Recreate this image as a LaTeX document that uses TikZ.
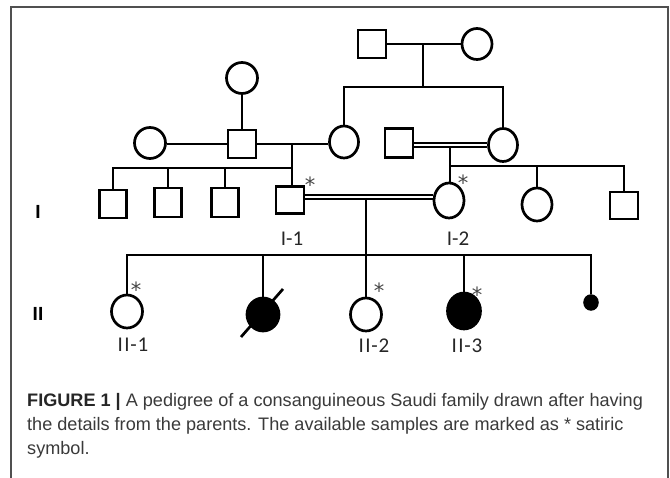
\documentclass[tikz,border=0pt]{standalone}
\usepackage{fontspec}
\usetikzlibrary{shapes.geometric}
\newfontfamily\lblfont{Carlito}
\newfontfamily\capfont{Liberation Sans}
\newfontfamily\astfont{DejaVu Sans}
\definecolor{framecol}{HTML}{505050}
\definecolor{captxt}{HTML}{3A3A3A}
\definecolor{astcol}{HTML}{454545}
\newcommand\lsk[1]{\kern#1pt}
\begin{document}
\begin{tikzpicture}[x=1pt,y=-1pt,
  male/.style={draw, line width=2.7pt, rectangle, minimum width=28pt, minimum height=28pt, inner sep=0pt},
  female/.style={draw, line width=2.7pt, ellipse, minimum width=30pt, minimum height=33pt, inner sep=0pt},
  aff/.style={fill=black},
  ln/.style={line width=2.7pt},
  dbl/.style={double, double distance=2.2pt, line width=2.1pt},
  ast/.style={font=\astfont\fontsize{21}{21}\selectfont, text=astcol, inner sep=0pt, anchor=north},
  lbl/.style={font=\lblfont\fontsize{21}{21}\selectfont, text=black!85, inner sep=0pt},
  gen/.style={font=\capfont\bfseries\fontsize{19}{19}\selectfont, inner sep=0pt},
  captext/.style={font=\capfont\fontsize{18.1}{20}\selectfont, text=captxt, inner sep=0pt, anchor=base west}]
\fill[white] (0,0) rectangle (670,478);
\useasboundingbox (0,0) rectangle (670,478);
% frame
\draw[framecol, line width=1.3pt] (11,480) -- (11,7) -- (668,7) -- (668,480);
% generation 0
\node[male] (gf) at (372,44) {};
\node[female, minimum width=30pt, minimum height=31pt] (gm) at (477,44) {};
\coordinate (g0m) at (423,44);
\coordinate (g0s) at (423,87);
\draw[ln] (gf) -- (gm);
\draw[ln] (g0m) -- (g0s);
% left family
\node[female, minimum width=31pt, minimum height=31pt] (pgm) at (242,78) {};
\node[male] (fa) at (242,144) {};
\node[female, minimum width=31pt, minimum height=31pt] (lw) at (150,143) {};
\node[female, minimum width=29pt, minimum height=32pt] (ma) at (344,142) {};
\draw[ln] (pgm) -- (fa);
\draw[ln] (fa.west) -- (fa.west -| lw.east);
\draw[ln] (fa.east) -- (fa.east -| ma.west);
\draw[ln] (ma.north) |- (g0s);
% right family
\node[male, minimum height=29pt] (hb) at (399,143) {};
\node[female, minimum width=29pt, minimum height=33pt] (mb) at (503,145) {};
\draw[ln] (mb.north) |- (g0s);
\draw[dbl] ([yshift=-2pt]hb.east) -- ([yshift=-2pt]hb.east -| mb.west);
% generation I
\node[male, minimum width=27pt, minimum height=28pt] (b1) at (113,204) {};
\node[male, minimum width=27pt, minimum height=29pt] (b2) at (168,202.5) {};
\node[male, minimum width=27pt, minimum height=29pt] (b3) at (225,202.5) {};
\node[male, minimum width=28pt, minimum height=27pt] (i1) at (290,200) {};
\node[female, minimum width=30pt, minimum height=35pt] (i2) at (449,200.5) {};
\node[female, minimum width=30pt, minimum height=33pt] (s2) at (537,204.5) {};
\node[male, minimum width=28pt, minimum height=27pt] (s3) at (624,205.5) {};
\coordinate (fj) at (292,144);
\coordinate (fs) at (292,168);
\draw[ln] (fj) -- (fj |- i1.north);
\draw[ln] (b1.north) |- (fs);
\draw[ln] (b2.north) -- (b2.north |- fs);
\draw[ln] (b3.north) -- (b3.north |- fs);
\coordinate (rj) at (450,147);
\coordinate (rs) at (450,166);
\draw[ln] (rj) -- (rj |- i2.north);
\draw[ln] (rs) -| (s2.north);
\draw[ln] (rs) -| (s3.north);
\draw[dbl] ([yshift=3pt]i1.east) -- ([yshift=3pt]i1.east -| i2.west);
% generation II
\coordinate (cj) at (366,198);
\coordinate (cs) at (366,255);
\draw[ln] (cj) -- (cs);
\node[female, minimum width=31pt, minimum height=33pt] (c1) at (127,311.5) {};
\node[female, aff, minimum width=32pt, minimum height=33pt] (c2) at (263,314.5) {};
\node[female, minimum width=31pt, minimum height=33pt] (c3) at (366,314.5) {};
\node[female, aff, minimum width=33pt, minimum height=36pt] (c4) at (464,311) {};
\node[female, aff, line width=1.5pt, minimum width=14pt, minimum height=15pt] (c5) at (591,302.5) {};
\draw[ln] (c1.north) |- (cs);
\draw[ln] (c5.north) |- (cs);
\draw[ln] (c2.north) -- (c2.north |- cs);
\draw[ln] (c4.north) -- (c4.north |- cs);
\draw[ln] (cs) -- (c3.north);
\coordinate (dl) at (241,337);
\coordinate (du) at (283,289);
\draw[ln] (dl) -- (du);
% asterisks
\node[ast] (a1) at (310,177) {*};
\node[ast] (a2) at (463,175) {*};
\node[ast] (a3) at (136,282) {*};
\node[ast] (a4) at (379,283) {*};
\node[ast] (a5) at (477,287) {*};
% labels
\node[lbl] (l1) at (292,238.5) {I-1};
\node[lbl] (l2) at (458,238.5) {I-2};
\node[lbl] (l3) at (133,344.5) {I\lsk{1.5}I\lsk{0.8}-\lsk{0.8}1};
\node[lbl] (l4) at (374,345.5) {I\lsk{1.5}I\lsk{0.8}-\lsk{0.8}2};
\node[lbl] (l5) at (467,345.5) {I\lsk{1.5}I\lsk{0.8}-\lsk{0.8}3};
\node[gen] (gI) at (38,212) {I};
\node[gen] (gII) at (38,314) {II};
% caption
\node[captext] (cap1) at (27,407) {{\bfseries\color{black!85}FIGURE 1 |} A pedigree of a consanguineous Saudi family drawn after having};
\node[captext] (cap2) at (27,431) {the details from the parents. The available samples are marked as * satiric};
\node[captext] (cap3) at (27,455) {symbol.};
\end{tikzpicture}
\end{document}
